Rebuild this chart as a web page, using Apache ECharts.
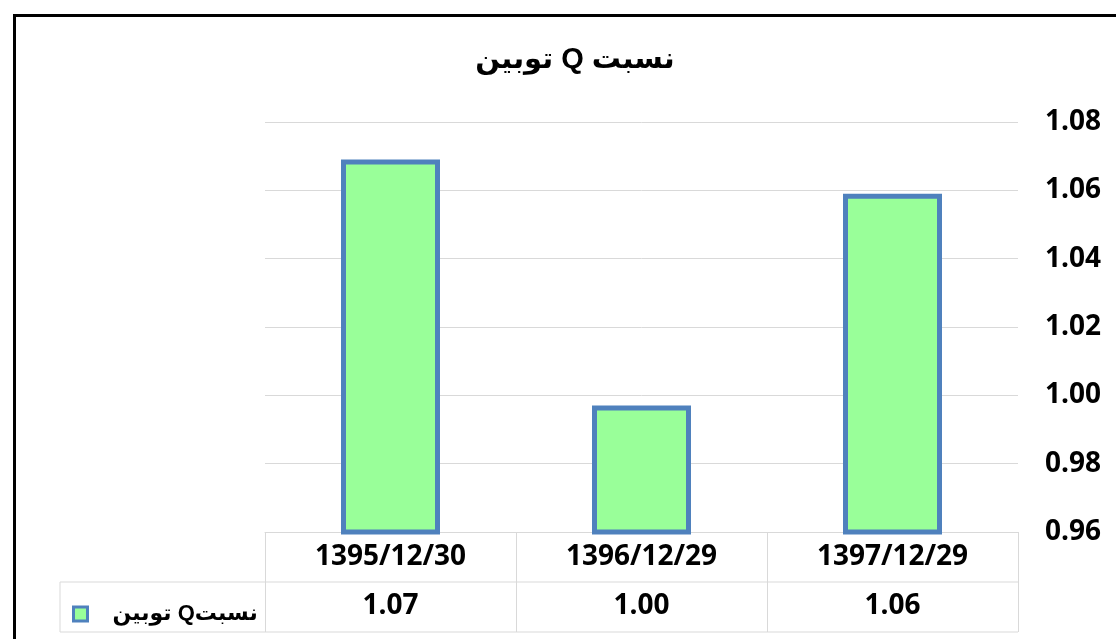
<!DOCTYPE html>
<html>
<head>
<meta charset="utf-8">
<script src="https://cdn.jsdelivr.net/npm/echarts@6/dist/echarts.min.js"></script>
<style>
html,body{margin:0;padding:0;background:#fff;}
#chart{width:1116px;height:639px;}
</style>
</head>
<body>
<div id="chart" dir="rtl"></div>
<script>
const titleText = 'نسبت Q توبین';
const seriesName = 'نسبت Q توبین';
const legendLabel = 'نسبتQ توبین';
const categories = ['1395/12/30', '1396/12/29', '1397/12/29'];
const values = [1.069, 0.997, 1.059];
const yMin = 0.96, yMax = 1.08, yStep = 0.02;

const numFont = "'Open Sans', 'Liberation Sans', sans-serif";
const arFont = "'Liberation Sans', 'DejaVu Sans', sans-serif";
const tableLine = '#d9d9d9';

const chart = echarts.init(document.getElementById('chart'), null, {renderer: 'canvas'});
const option = {
  backgroundColor: '#ffffff',
  animation: false,
  title: {
    text: titleText,
    left: 570,
    top: 40,
    textAlign: 'center',
    textStyle: {fontFamily: arFont, fontSize: 29, fontWeight: 'bold', color: '#000'}
  },
  legend: {
    show: true,
    left: 67,
    top: 598,
    orient: 'horizontal',
    icon: 'rect',
    itemWidth: 14,
    itemHeight: 14,
    formatter: () => legendLabel,
    itemStyle: {color: '#99ff99', borderColor: '#4f81bd', borderWidth: 3},
    textStyle: {fontFamily: arFont, fontSize: 22, fontWeight: 'bold', color: '#000', padding: [0, 0, 0, 20]}
  },
  grid: {left: 265, right: 98, top: 122, bottom: 107, containLabel: false},
  xAxis: [
    {
      type: 'category',
      data: categories,
      position: 'bottom',
      axisLine: {show: true, lineStyle: {color: tableLine, width: 1}},
      axisTick: {show: true, length: 100, lineStyle: {color: tableLine, width: 1}},
      axisLabel: {
        fontFamily: numFont, fontSize: 28, fontWeight: 'bold', color: '#000',
        margin: 25, verticalAlign: 'middle', lineHeight: 28
      },
      splitLine: {show: false}
    },
    {
      type: 'category',
      data: categories,
      position: 'bottom',
      offset: 50,
      axisLine: {show: false},
      axisTick: {show: false},
      axisLabel: {
        fontFamily: numFont, fontSize: 28, fontWeight: 'bold', color: '#000',
        margin: 24, verticalAlign: 'middle', lineHeight: 28,
        formatter: (v, i) => values[i].toFixed(2)
      },
      splitLine: {show: false}
    }
  ],
  yAxis: {
    type: 'value',
    position: 'right',
    min: yMin,
    max: yMax,
    interval: yStep,
    axisLine: {show: false},
    axisTick: {show: false},
    splitLine: {show: true, lineStyle: {color: tableLine, width: 1}},
    axisLabel: {
      fontFamily: numFont, fontSize: 28, fontWeight: 'bold', color: '#000', margin: 27,
      formatter: v => v.toFixed(2)
    }
  },
  series: [{
    name: seriesName,
    type: 'bar',
    xAxisIndex: 0,
    data: values,
    barWidth: 99,
    itemStyle: {color: '#99ff99', borderColor: '#4f81bd', borderWidth: 5}
  }],
  graphic: [
    {type: 'line', shape: {x1: 60, y1: 582, x2: 1018, y2: 582}, style: {stroke: tableLine, lineWidth: 1}, z: 1},
    {type: 'line', shape: {x1: 60, y1: 632, x2: 1018, y2: 632}, style: {stroke: tableLine, lineWidth: 1}, z: 1},
    {type: 'line', shape: {x1: 60, y1: 582, x2: 60, y2: 632}, style: {stroke: tableLine, lineWidth: 1}, z: 1},
    {type: 'rect', shape: {x: 14.5, y: 15.5, width: 1200, height: 700}, style: {fill: 'none', stroke: '#000', lineWidth: 3}, z: 100}
  ]
};
chart.setOption(option);
</script>
</body>
</html>
